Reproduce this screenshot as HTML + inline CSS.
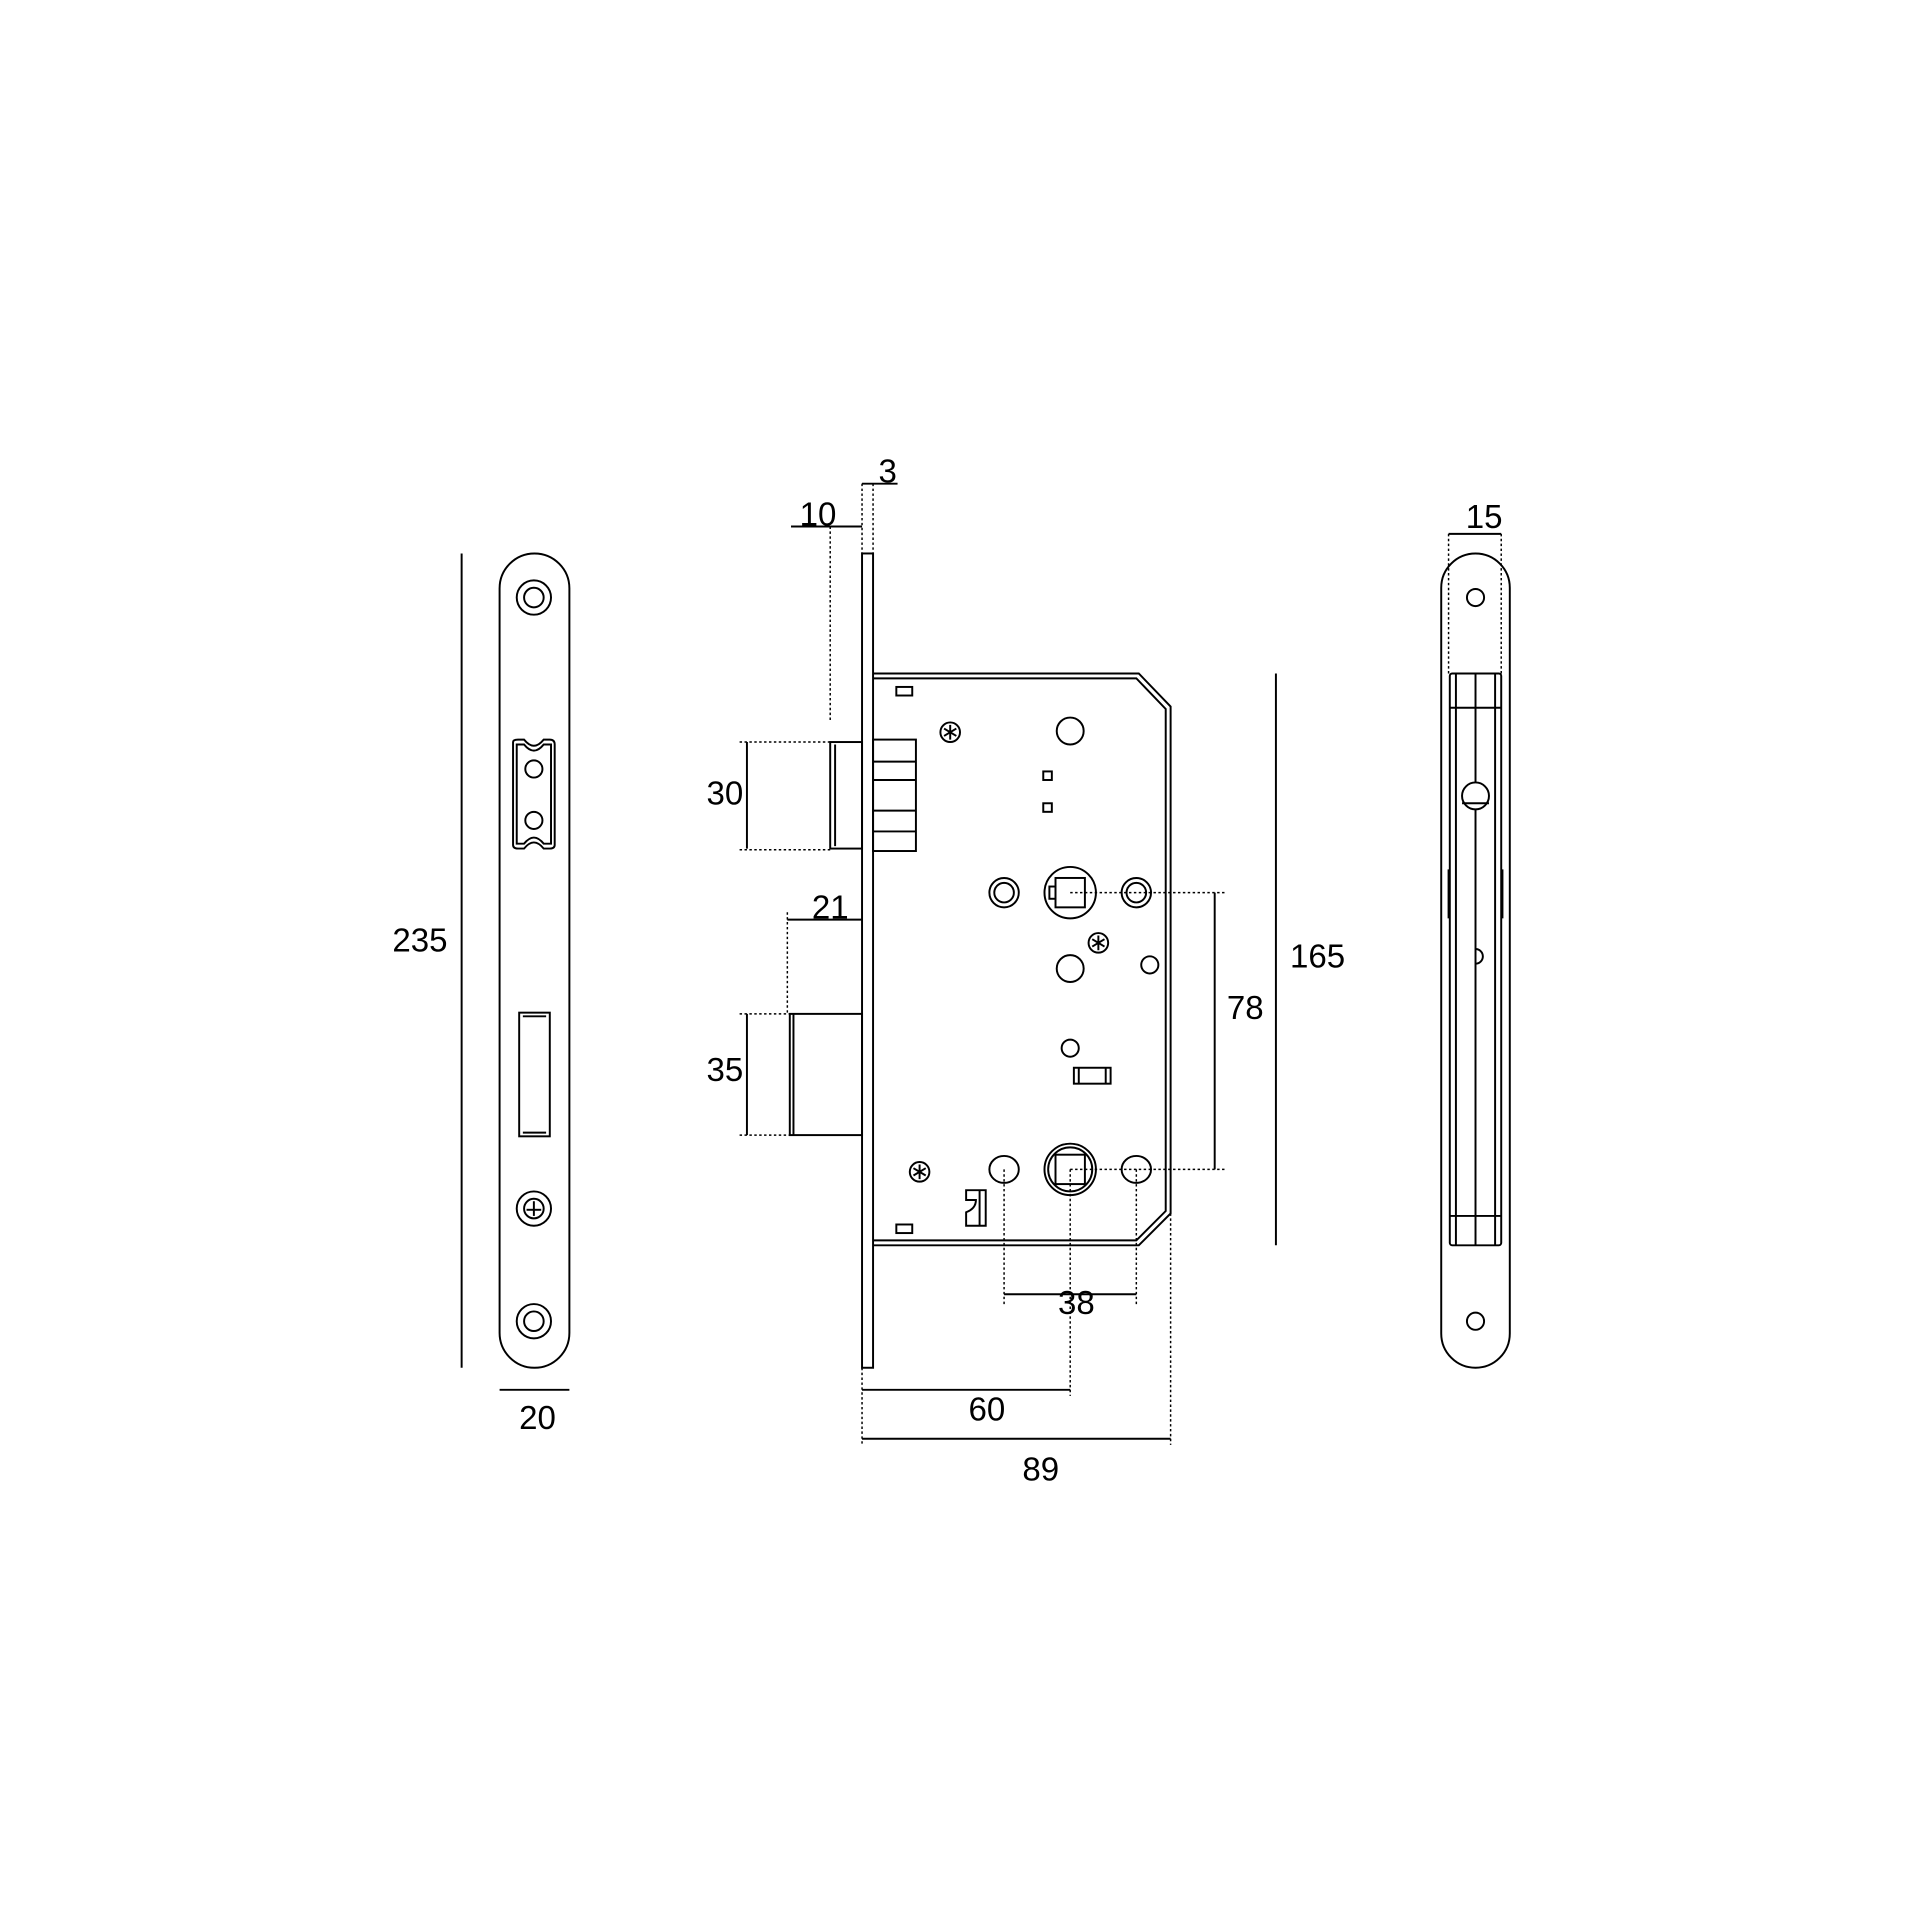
<!DOCTYPE html>
<html><head><meta charset="utf-8"><style>
html,body{margin:0;padding:0;background:#fff;}
svg{display:block;}
text{font-family:"Liberation Sans",sans-serif;font-size:27px;fill:#000;text-anchor:middle;}
</style></head><body>
<svg width="1920" height="1920" viewBox="0 0 1568 1568" xmlns="http://www.w3.org/2000/svg">
<g fill="none" stroke="#000" stroke-width="1.6">
<!-- LEFT STRIKE PLATE -->
<rect x="408" y="452" width="57" height="665" rx="28.5" ry="28.5"/>
<line x1="377" y1="452" x2="377" y2="1117"/>
<line x1="408" y1="1135" x2="465" y2="1135"/>
<circle cx="436" cy="488" r="14"/><circle cx="436" cy="488" r="8"/>
<circle cx="436" cy="1079" r="14"/><circle cx="436" cy="1079" r="8"/>
<path d="M419 606 Q419 604 423 604 L428 604 Q436 614 444 604 L449 604 Q453 604 453 608 L453 690 Q453 693 449 693 L444 693 Q436 683 428 693 L423 693 Q419 693 419 690 Z"/>
<path d="M422 608 L428 608 Q436 618 444 608 L450 608 L450 689 L444 689 Q436 679 428 689 L422 689 Z"/>
<circle cx="436" cy="628" r="7"/><circle cx="436" cy="670" r="7"/>
<rect x="424" y="827" width="25" height="101"/>
<line x1="427" y1="830" x2="446" y2="830"/><line x1="427" y1="925" x2="446" y2="925"/>
<circle cx="436" cy="987" r="14"/><circle cx="436" cy="987" r="8"/>
<line x1="436" y1="981" x2="436" y2="993"/><line x1="430" y1="988" x2="442" y2="988"/>

<!-- MIDDLE LOCK -->
<rect x="704" y="452" width="9" height="665"/>
<path d="M713 550 L930 550 L956 577 L956 991 L930 1017 L713 1017"/>
<path d="M713 554 L928 554 L952 579 L952 989 L928 1013 L713 1013"/>
<rect x="678" y="606" width="26" height="87"/>
<line x1="682" y1="608" x2="682" y2="691"/>
<rect x="713" y="604" width="35" height="91"/>
<line x1="713" y1="622" x2="748" y2="622"/><line x1="713" y1="637" x2="748" y2="637"/>
<line x1="713" y1="662" x2="748" y2="662"/><line x1="713" y1="679" x2="748" y2="679"/>
<rect x="645" y="828" width="59" height="99"/>
<line x1="648" y1="828" x2="648" y2="927"/>
<rect x="732" y="561" width="13" height="7"/>
<rect x="732" y="1000" width="13" height="7"/>
<circle cx="776" cy="598" r="8"/><path d="M771 595 L781 601 M776 592 L776 604 M771 601 L781 595"/>
<circle cx="751" cy="957" r="8"/><path d="M746 954 L756 960 M751 951 L751 963 M746 960 L756 954"/>
<circle cx="897" cy="770" r="8"/><path d="M892 767 L902 773 M897 764 L897 776 M892 773 L902 767"/>
<circle cx="874" cy="597" r="11"/>
<rect x="852" y="630" width="7" height="7"/><rect x="852" y="656" width="7" height="7"/>
<circle cx="874" cy="729" r="21"/><rect x="862" y="717" width="24" height="24"/>
<rect x="857" y="724" width="5" height="10"/>
<circle cx="820" cy="729" r="12"/><circle cx="820" cy="729" r="8"/>
<circle cx="928" cy="729" r="12"/><circle cx="928" cy="729" r="8"/>
<circle cx="874" cy="791" r="11"/>
<circle cx="939" cy="788" r="7"/>
<circle cx="874" cy="856" r="7"/>
<rect x="877" y="872" width="30" height="13"/><line x1="881" y1="872" x2="881" y2="885"/><line x1="903" y1="872" x2="903" y2="885"/>
<circle cx="874" cy="955" r="21"/><circle cx="874" cy="955" r="18"/><rect x="862" y="943" width="24" height="24"/>
<ellipse cx="820" cy="955" rx="12" ry="11"/>
<ellipse cx="928" cy="955" rx="12" ry="11"/>
<path d="M789 972 L805 972 L805 1001 L789 1001 L789 990 Q797 987 797 980 L789 980 Z"/>
<line x1="800" y1="972" x2="800" y2="1001"/>

<!-- dimensions -->
<line x1="610" y1="606" x2="610" y2="693"/>
<line x1="610" y1="828" x2="610" y2="927"/>
<line x1="643" y1="751" x2="704" y2="751"/>
<line x1="646" y1="430" x2="704" y2="430"/>
<line x1="704" y1="395" x2="733" y2="395"/>
<line x1="992" y1="729" x2="992" y2="955"/>
<line x1="1042" y1="550" x2="1042" y2="1017"/>
<line x1="820" y1="1057" x2="928" y2="1057"/>
<line x1="704" y1="1135" x2="874" y2="1135"/>
<line x1="704" y1="1175" x2="956" y2="1175"/>

<!-- RIGHT EDGE VIEW -->
<rect x="1177" y="452" width="56" height="665" rx="28" ry="28"/>
<circle cx="1205" cy="488" r="7"/><circle cx="1205" cy="1079" r="7"/>
<rect x="1184" y="550" width="42" height="467" rx="2"/>
<line x1="1189" y1="550" x2="1189" y2="1017"/><line x1="1221" y1="550" x2="1221" y2="1017"/>
<line x1="1205" y1="550" x2="1205" y2="578"/><line x1="1205" y1="993" x2="1205" y2="1017"/>
<line x1="1184" y1="578" x2="1226" y2="578"/><line x1="1184" y1="993" x2="1226" y2="993"/>
<line x1="1205" y1="578" x2="1205" y2="639"/><line x1="1205" y1="661" x2="1205" y2="993"/>
<circle cx="1205" cy="650" r="11"/><line x1="1194" y1="656" x2="1216" y2="656"/>
<path d="M1205 775 A6 6 0 0 1 1205 787"/>
<line x1="1183" y1="710" x2="1183" y2="750"/><line x1="1227" y1="710" x2="1227" y2="750"/>
<line x1="1183" y1="436" x2="1226" y2="436"/>
</g>
<g fill="none" stroke="#000" stroke-width="1.2" stroke-dasharray="2 2">
<line x1="604" y1="606" x2="678" y2="606"/><line x1="604" y1="694" x2="678" y2="694"/>
<line x1="604" y1="828" x2="645" y2="828"/><line x1="604" y1="927" x2="645" y2="927"/>
<line x1="643" y1="745" x2="643" y2="828"/>
<line x1="678" y1="430" x2="678" y2="590"/>
<line x1="704" y1="395" x2="704" y2="452"/><line x1="713" y1="395" x2="713" y2="452"/>
<line x1="874" y1="729" x2="1000" y2="729"/><line x1="874" y1="955" x2="1000" y2="955"/>
<line x1="820" y1="955" x2="820" y2="1066"/><line x1="928" y1="955" x2="928" y2="1066"/>
<line x1="874" y1="955" x2="874" y2="1140"/>
<line x1="704" y1="1117" x2="704" y2="1180"/>
<line x1="956" y1="991" x2="956" y2="1180"/>
<line x1="1183" y1="436" x2="1183" y2="550"/><line x1="1226" y1="436" x2="1226" y2="550"/>
</g>
<text x="343" y="777">235</text>
<text x="439" y="1167">20</text>
<text x="592" y="657">30</text>
<text x="592" y="883">35</text>
<text x="678" y="750">21</text>
<text x="668" y="429">10</text>
<text x="725" y="394">3</text>
<text x="1017" y="832">78</text>
<text x="1076" y="790">165</text>
<text x="879" y="1073">38</text>
<text x="806" y="1160">60</text>
<text x="850" y="1209">89</text>
<text x="1212" y="431">15</text>
</svg>
</body></html>
